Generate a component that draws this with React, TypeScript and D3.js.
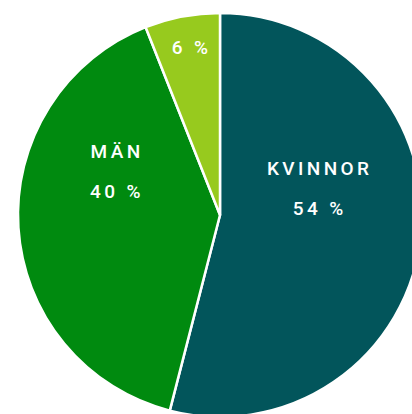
import React from "react";
import * as d3 from "d3";

const categories = ["KVINNOR", "MÄN", ""];
const values = [54, 40, 6];
const valueLabels = ["54 %", "40 %", "6 %"];
const colors = ["#02555B", "#008A0F", "#97CA1E"];

const W = 412;
const H = 414;
const cx = 220;
const cy = 215;
const R = 202;

// label anchor positions (polar, relative to pie centre)
const labelPolar = [
  { angle: 78.5, r: 100, nameDy: -20, valDy: 20 },
  { angle: 289.4, r: 111, nameDy: -20, valDy: 20 },
  { angle: 349.4, r: 164, nameDy: 0, valDy: 0 },
];

export default function App() {
  const pie = d3.pie<number>().sort(null).value((d) => d);
  const arcs = pie(values);
  const arcGen = d3.arc<d3.PieArcDatum<number>>().innerRadius(0).outerRadius(R);
  const ls = 3.4;
  return (
    <svg
      width={W}
      height={H}
      style={{ position: "absolute", left: 0, top: 0, display: "block" }}
    >
      <g transform={`translate(${cx},${cy})`}>
        {arcs.map((a, i) => (
          <path
            key={i}
            d={arcGen(a) || ""}
            fill={colors[i]}
            stroke="#fff"
            strokeWidth={2.5}
            strokeLinejoin="round"
          />
        ))}
        {arcs.map((a, i) => {
          const p = labelPolar[i];
          const t = (p.angle * Math.PI) / 180;
          const x = p.r * Math.sin(t);
          const y = -p.r * Math.cos(t);
          return (
            <g key={"l" + i} fill="#fff" fontFamily="Roboto, 'DejaVu Sans', sans-serif" fontWeight={500} fontSize={19} textAnchor="middle" style={{ letterSpacing: `${ls}px` }}>
              {categories[i] && (
                <text x={x + ls / 2} y={y + p.nameDy}>{categories[i]}</text>
              )}
              <text x={x + ls / 2} y={y + p.valDy}>{valueLabels[i]}</text>
            </g>
          );
        })}
      </g>
    </svg>
  );
}
